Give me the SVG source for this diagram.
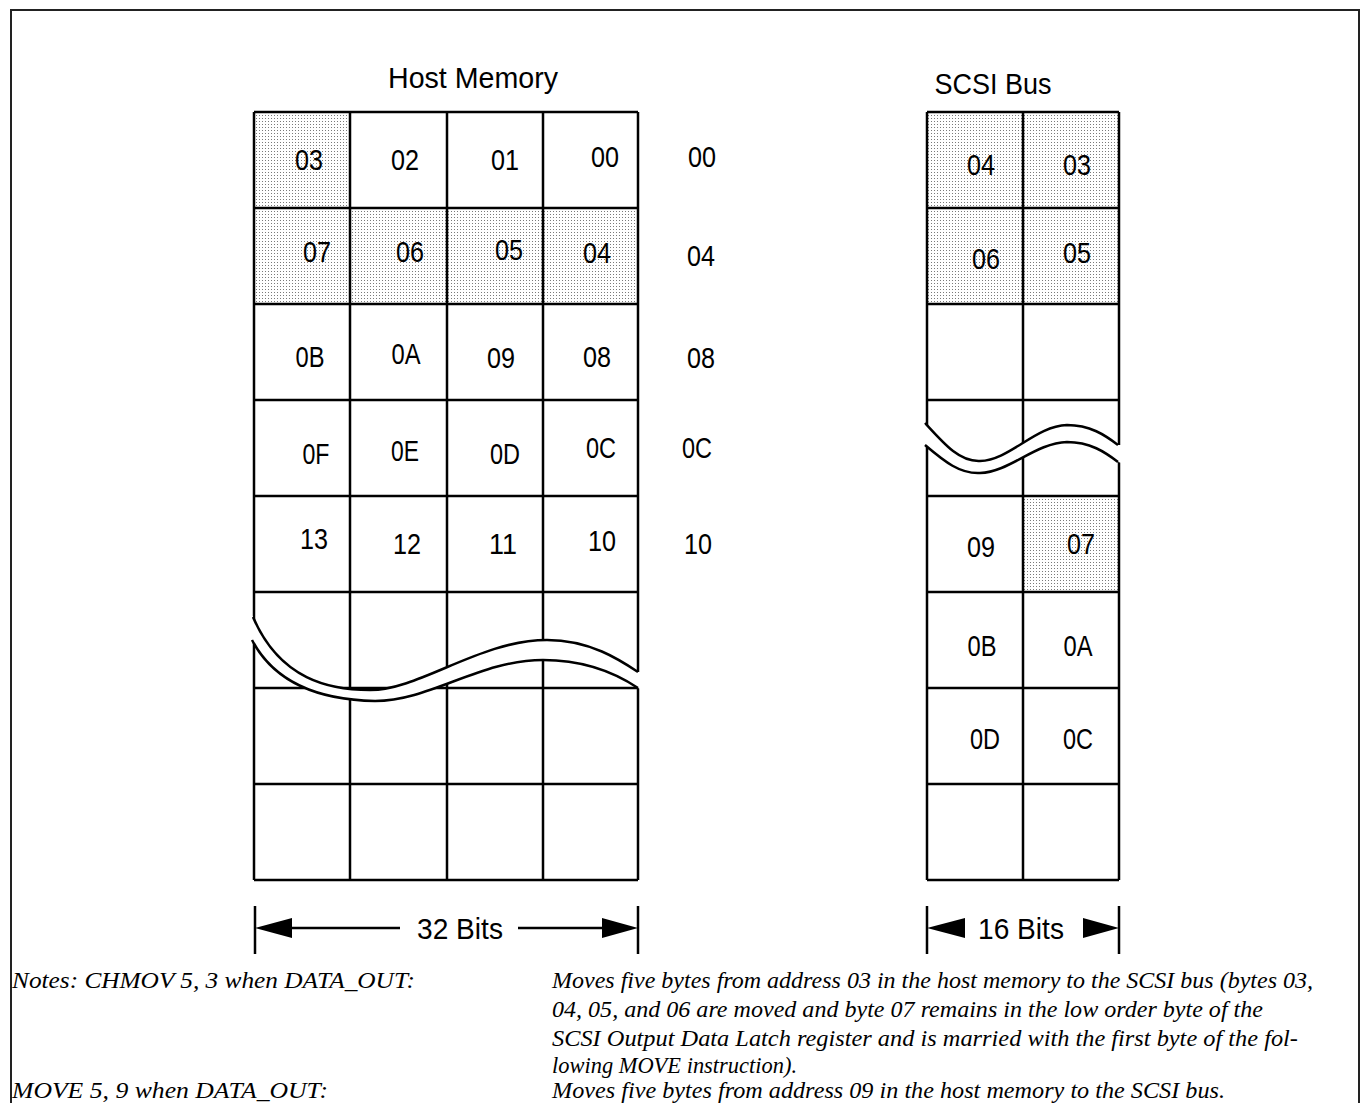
<svg xmlns="http://www.w3.org/2000/svg" width="1363" height="1103" viewBox="0 0 1363 1103">
<defs>
<pattern id="dots" width="3" height="3" patternUnits="userSpaceOnUse">
<rect width="3" height="3" fill="#ffffff"/>
<rect x="1" y="1" width="1" height="1" fill="#7a7a7a"/>
</pattern>
<style>
.grid{stroke:#000;stroke-width:2.5;fill:none}
.shade{fill:url(#dots);stroke:none}
.lbl{font-family:"Liberation Sans Narrow","Liberation Sans",Arial,sans-serif;font-size:30px;fill:#000;text-anchor:middle}
.ttl{font-family:"Liberation Sans Narrow","Liberation Sans",Arial,sans-serif;font-size:30px;fill:#000;text-anchor:middle}
.note{font-family:"Liberation Serif","Times New Roman",serif;font-style:italic;font-size:23px;fill:#000}
.wave{stroke:#000;stroke-width:2.5;fill:none}
.band{fill:#fff;stroke:none}
.dim{stroke:#000;stroke-width:2.5;fill:none}
.head{fill:#000;stroke:none}
</style>
</defs>
<rect width="1363" height="1103" fill="#fff"/>
<rect x="11" y="10" width="1348" height="1110" fill="none" stroke="#222" stroke-width="2"/>

<g id="host-memory">
<text class="ttl" x="473" y="88" textLength="170" lengthAdjust="spacingAndGlyphs">Host Memory</text>
<rect class="shade" x="254" y="112" width="96" height="96"/>
<rect class="shade" x="254" y="208" width="384" height="96"/>
<g class="grid">
<path d="M254,112V880M350,112V880M447,112V880M543,112V880M638,112V880"/>
<path d="M254,112H638M254,208H638M254,304H638M254,400H638M254,496H638M254,592H638M254,688H638M254,784H638M254,880H638"/>
</g>
<path class="band" d="M251,614 L253,617 C280,680 330,690 370,690 C420,690 480,640 547,640 C590,640 620,660 638,672 L641,672 L641,689 L638,688 C620,676 590,660 543,660 C480,660 430,701 375,701 C325,700 276,686 252,640 L251,640 Z"/>
<path class="wave" d="M253,617 C280,680 330,690 370,690 C420,690 480,640 547,640 C590,640 620,660 638,672"/>
<path class="wave" d="M252,640 C276,686 325,700 375,701 C430,701 480,660 543,660 C590,660 620,676 638,688"/>
<g id="host-cells">
<text class="lbl" x="309" y="170" textLength="28" lengthAdjust="spacingAndGlyphs">03</text>
<text class="lbl" x="405" y="170" textLength="28" lengthAdjust="spacingAndGlyphs">02</text>
<text class="lbl" x="505" y="170" textLength="28" lengthAdjust="spacingAndGlyphs">01</text>
<text class="lbl" x="605" y="167" textLength="28" lengthAdjust="spacingAndGlyphs">00</text>
<text class="lbl" x="317" y="262" textLength="28" lengthAdjust="spacingAndGlyphs">07</text>
<text class="lbl" x="410" y="262" textLength="28" lengthAdjust="spacingAndGlyphs">06</text>
<text class="lbl" x="509" y="260" textLength="28" lengthAdjust="spacingAndGlyphs">05</text>
<text class="lbl" x="597" y="263" textLength="28" lengthAdjust="spacingAndGlyphs">04</text>
<text class="lbl" x="310" y="367" textLength="29" lengthAdjust="spacingAndGlyphs">0B</text>
<text class="lbl" x="406" y="364" textLength="29" lengthAdjust="spacingAndGlyphs">0A</text>
<text class="lbl" x="501" y="368" textLength="28" lengthAdjust="spacingAndGlyphs">09</text>
<text class="lbl" x="597" y="367" textLength="28" lengthAdjust="spacingAndGlyphs">08</text>
<text class="lbl" x="316" y="464" textLength="27" lengthAdjust="spacingAndGlyphs">0F</text>
<text class="lbl" x="405" y="461" textLength="28" lengthAdjust="spacingAndGlyphs">0E</text>
<text class="lbl" x="505" y="464" textLength="30" lengthAdjust="spacingAndGlyphs">0D</text>
<text class="lbl" x="601" y="458" textLength="30" lengthAdjust="spacingAndGlyphs">0C</text>
<text class="lbl" x="314" y="549" textLength="28" lengthAdjust="spacingAndGlyphs">13</text>
<text class="lbl" x="407" y="554" textLength="28" lengthAdjust="spacingAndGlyphs">12</text>
<text class="lbl" x="503" y="554" textLength="28" lengthAdjust="spacingAndGlyphs">11</text>
<text class="lbl" x="602" y="551" textLength="28" lengthAdjust="spacingAndGlyphs">10</text>
</g>
</g>

<g id="addresses">
<text class="lbl" x="702" y="167" textLength="28" lengthAdjust="spacingAndGlyphs">00</text>
<text class="lbl" x="701" y="266" textLength="28" lengthAdjust="spacingAndGlyphs">04</text>
<text class="lbl" x="701" y="368" textLength="28" lengthAdjust="spacingAndGlyphs">08</text>
<text class="lbl" x="697" y="458" textLength="30" lengthAdjust="spacingAndGlyphs">0C</text>
<text class="lbl" x="698" y="554" textLength="28" lengthAdjust="spacingAndGlyphs">10</text>
</g>

<g id="scsi-bus">
<text class="ttl" x="993" y="94" textLength="117" lengthAdjust="spacingAndGlyphs">SCSI Bus</text>
<rect class="shade" x="927" y="112" width="192" height="192"/>
<rect class="shade" x="1023" y="496" width="96" height="96"/>
<g class="grid">
<path d="M927,112V880M1023,112V880M1119,112V880"/>
<path d="M927,112H1119M927,208H1119M927,304H1119M927,400H1119M927,496H1119M927,592H1119M927,688H1119M927,784H1119M927,880H1119"/>
</g>
<path class="band" d="M924,420 L925,423 C945,445 960,462 980,461 C1010,460 1035,426 1067,425 C1090,425 1105,435 1118,445 L1122,445 L1122,463 L1118,462 C1105,452 1090,442 1067,442 C1035,443 1010,472 980,473 C960,474 945,462 925,445 L924,445 Z"/>
<path class="wave" d="M925,423 C945,445 960,462 980,461 C1010,460 1035,426 1067,425 C1090,425 1105,435 1118,445"/>
<path class="wave" d="M925,445 C945,462 960,474 980,473 C1010,472 1035,443 1067,442 C1090,442 1105,452 1118,462"/>
<g id="scsi-cells">
<text class="lbl" x="981" y="175" textLength="28" lengthAdjust="spacingAndGlyphs">04</text>
<text class="lbl" x="1077" y="175" textLength="28" lengthAdjust="spacingAndGlyphs">03</text>
<text class="lbl" x="986" y="269" textLength="28" lengthAdjust="spacingAndGlyphs">06</text>
<text class="lbl" x="1077" y="263" textLength="28" lengthAdjust="spacingAndGlyphs">05</text>
<text class="lbl" x="981" y="557" textLength="28" lengthAdjust="spacingAndGlyphs">09</text>
<text class="lbl" x="1081" y="554" textLength="28" lengthAdjust="spacingAndGlyphs">07</text>
<text class="lbl" x="982" y="656" textLength="29" lengthAdjust="spacingAndGlyphs">0B</text>
<text class="lbl" x="1078" y="656" textLength="29" lengthAdjust="spacingAndGlyphs">0A</text>
<text class="lbl" x="985" y="749" textLength="30" lengthAdjust="spacingAndGlyphs">0D</text>
<text class="lbl" x="1078" y="749" textLength="30" lengthAdjust="spacingAndGlyphs">0C</text>
</g>
</g>

<g id="connectors">
<g id="dim-32">
<path class="dim" d="M255,906V954M638,906V954M290,928H400M518,928H604"/>
<polygon class="head" points="255,928 292,918 292,938"/>
<polygon class="head" points="638,928 602,918 602,938"/>
<text class="lbl" x="460" y="939" textLength="86" lengthAdjust="spacingAndGlyphs">32 Bits</text>
</g>
<g id="dim-16">
<path class="dim" d="M927,906V954M1119,906V954"/>
<polygon class="head" points="927,928 965,918 965,938"/>
<polygon class="head" points="1119,928 1083,918 1083,938"/>
<text class="lbl" x="1021" y="939" textLength="86" lengthAdjust="spacingAndGlyphs">16 Bits</text>
</g>
</g>

<g id="notes">
<text class="note" x="12" y="988" textLength="403" lengthAdjust="spacingAndGlyphs">Notes: CHMOV 5, 3 when DATA_OUT:</text>
<text class="note" x="12" y="1098" textLength="316" lengthAdjust="spacingAndGlyphs">MOVE 5, 9 when DATA_OUT:</text>
<text class="note" x="552" y="988" textLength="761" lengthAdjust="spacingAndGlyphs">Moves five bytes from address 03 in the host memory to the SCSI bus (bytes 03,</text>
<text class="note" x="552" y="1017" textLength="711" lengthAdjust="spacingAndGlyphs">04, 05, and 06 are moved and byte 07 remains in the low order byte of the</text>
<text class="note" x="552" y="1046" textLength="746" lengthAdjust="spacingAndGlyphs">SCSI Output Data Latch register and is married with the first byte of the fol-</text>
<text class="note" x="552" y="1073" textLength="245" lengthAdjust="spacingAndGlyphs">lowing MOVE instruction).</text>
<text class="note" x="552" y="1098" textLength="673" lengthAdjust="spacingAndGlyphs">Moves five bytes from address 09 in the host memory to the SCSI bus.</text>
</g>
</svg>
